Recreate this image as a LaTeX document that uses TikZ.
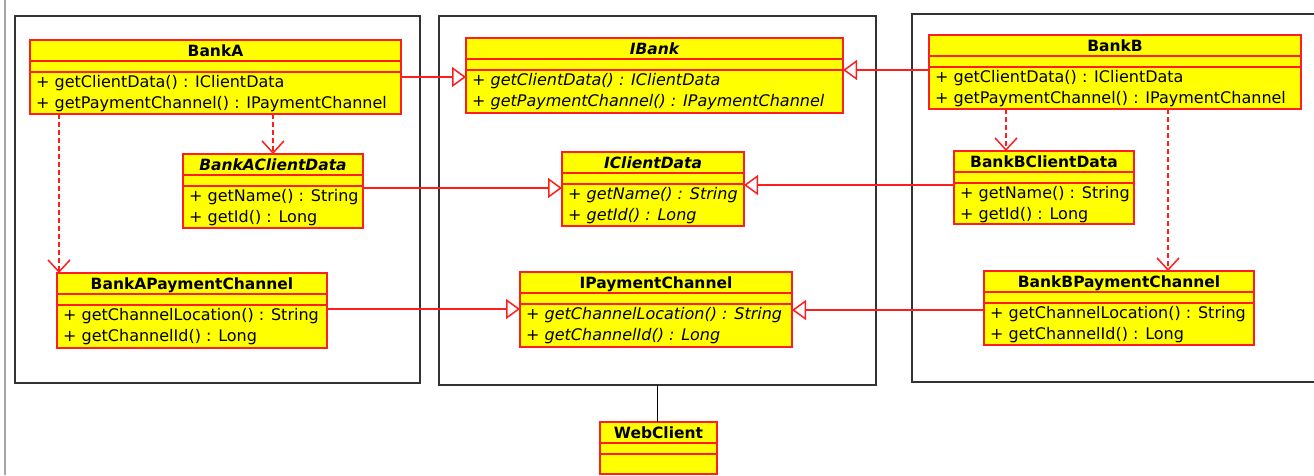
\documentclass[tikz,border=0pt]{standalone}
\usepackage{fontspec}
\setmainfont{DejaVu Sans}
\usepackage{tikz}
\usetikzlibrary{arrows.meta,positioning}

\definecolor{umlred}{RGB}{255,30,30}
\definecolor{umlyellow}{RGB}{255,255,0}

\tikzset{
  classbox/.style={draw=umlred, fill=umlyellow, line width=1.5pt, inner sep=0pt, outer sep=0pt, anchor=north west},
  classline/.style={draw=umlred, line width=1.5pt},
  titletext/.style={inner sep=0pt, anchor=base, font=\fontsize{15.5}{18}\selectfont\bfseries},
  methodtext/.style={inner sep=0pt, anchor=base west, font=\fontsize{16}{21}\selectfont},
  pkg/.style={draw=black!80, line width=1.6pt, inner sep=0pt, outer sep=0pt, anchor=north west},
  realize/.style={draw=umlred, line width=1.5pt, -{Triangle[open, length=14pt, width=20pt]}},
  depend/.style={draw=umlred, line width=1.5pt, dash pattern=on 5pt off 3pt, -{Straight Barb[length=12pt, width=22pt]}},
  assoc/.style={draw=black, line width=1.5pt}
}

% name, x, y, width, height, title, first operation, second operation
\newcommand{\umlclass}[8]{%
  \node[classbox, minimum width=#4pt, minimum height=#5pt] (#1) at (#2,#3) {};
  \draw[classline] ([yshift=-21pt]#1.north west) -- ([yshift=-21pt]#1.north east);
  \draw[classline] ([yshift=-32pt]#1.north west) -- ([yshift=-32pt]#1.north east);
  \node[titletext] (#1-name) at ([yshift=-16pt]#1.north) {#6};
  \node[methodtext] (#1-op1) at ([xshift=6pt, yshift=-47pt]#1.north west) {#7};
  \node[methodtext] (#1-op2) at ([xshift=6pt, yshift=-68pt]#1.north west) {#8};
}

\begin{document}
\begin{tikzpicture}[x=1pt, y=-1pt]
  \useasboundingbox (0,0) rectangle (1314,475);
  \draw[black!35, line width=1.5pt] (5,0) -- (5,475);

  \node[pkg, minimum width=405pt, minimum height=367pt] (bankApkg) at (15,16) {};
  \node[pkg, minimum width=437pt, minimum height=369pt] (core) at (439,16) {};
  \node[pkg, minimum width=420pt, minimum height=368pt] (bankBpkg) at (912,14) {};

  \umlclass{bankA}{30}{40}{371}{74}{BankA}{+ getClientData() : IClientData}{+ getPaymentChannel() : IPaymentChannel}
  \umlclass{bankAClient}{183}{154}{180}{74}{\itshape BankAClientData}{+ getName() : String}{+ getId() : Long}
  \umlclass{bankAPay}{57}{273}{270}{75}{BankAPaymentChannel}{+ getChannelLocation() : String}{+ getChannelId() : Long}

  \umlclass{iBank}{466}{38}{377}{75}{\itshape IBank}{\itshape + getClientData() : IClientData}{\itshape + getPaymentChannel() : IPaymentChannel}
  \umlclass{iClient}{562}{152}{182}{74}{\itshape IClientData}{\itshape + getName() : String}{\itshape + getId() : Long}
  \umlclass{iPay}{520}{272}{272}{75}{IPaymentChannel}{\itshape + getChannelLocation() : String}{\itshape + getChannelId() : Long}

  \umlclass{bankB}{929}{35}{372}{74}{BankB}{+ getClientData() : IClientData}{+ getPaymentChannel() : IPaymentChannel}
  \umlclass{bankBClient}{954}{151}{180}{73}{BankBClientData}{+ getName() : String}{+ getId() : Long}
  \umlclass{bankBPay}{984}{271}{270}{74}{BankBPaymentChannel}{+ getChannelLocation() : String}{+ getChannelId() : Long}

  \umlclass{webClient}{600}{422}{117}{52}{WebClient}{}{}

  \coordinate (aOut) at (bankA.east);
  \coordinate (bOut) at ([yshift=2pt]bankB.west);
  \coordinate (aClientOut) at ([yshift=3pt]bankAClient.east);
  \coordinate (bClientOut) at ([yshift=2.5pt]bankBClient.west);
  \coordinate (aPayOut) at ([yshift=1.5pt]bankAPay.east);
  \coordinate (bPayOut) at ([yshift=-2pt]bankBPay.west);
  \draw[realize] (aOut) -- (aOut -| iBank.west);
  \draw[realize] (bOut) -- (bOut -| iBank.east);
  \draw[realize] (aClientOut) -- (aClientOut -| iClient.west);
  \draw[realize] (bClientOut) -- (bClientOut -| iClient.east);
  \draw[realize] (aPayOut) -- (aPayOut -| iPay.west);
  \draw[realize] (bPayOut) -- (bPayOut -| iPay.east);

  \coordinate (aPayTop) at ([xshift=2pt]bankAPay.north west);
  \coordinate (bClientTop) at ([xshift=52pt]bankBClient.north west);
  \coordinate (bPayTop) at ([xshift=184pt]bankBPay.north west);
  \draw[depend] (bankA.south -| bankAClient.north) -- (bankAClient.north);
  \draw[depend] (bankA.south -| aPayTop) -- (aPayTop);
  \draw[depend] (bankB.south -| bClientTop) -- (bClientTop);
  \draw[depend] (bankB.south -| bPayTop) -- (bPayTop);

  \draw[assoc] (core.south) -- (core.south |- webClient.north);
\end{tikzpicture}
\end{document}
